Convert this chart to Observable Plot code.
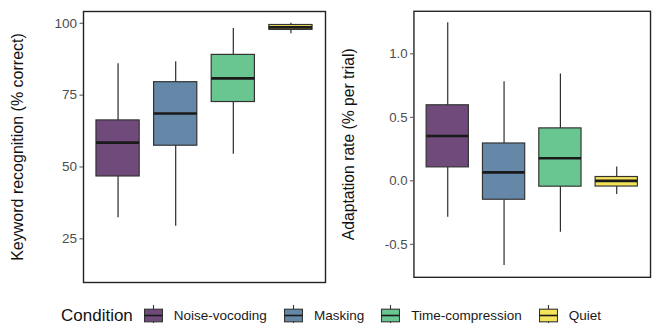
<!DOCTYPE html>
<html><head><meta charset="utf-8">
<script src="https://cdn.jsdelivr.net/npm/d3@7"></script>
<script src="https://cdn.jsdelivr.net/npm/@observablehq/plot@0.6"></script>
<style>
html,body{margin:0;padding:0;background:#fff;overflow:hidden;}
#wrap{position:relative;width:652px;height:323px;overflow:hidden;font-family:"Liberation Sans",Arial,sans-serif;}
#left{position:absolute;left:0;top:0;}
#right{position:absolute;left:330px;top:0;}
#legend{position:absolute;left:61px;top:303px;height:25px;display:flex;align-items:center;white-space:nowrap;}
#legend .ttl{font-size:17px;color:#111;margin-right:11px;}
#legend .key{width:19px;height:25px;margin-right:11px;display:block;}
#legend .lab{font-size:13.5px;color:#1a1a1a;margin-right:17px;}
</style></head>
<body><div id="wrap"><div id="left"></div><div id="right"></div><div id="legend"></div></div>
<script>
const conditions = ["Noise-vocoding", "Masking", "Time-compression", "Quiet"];
const colors = ["#704a7b", "#6588a8", "#6ac691", "#f5e45a"];
const legendTitle = "Condition";

// Keyword recognition (% correct)
const krLow  = [32.3, 29.4, 54.4, 96.4];
const krQ1   = [46.7, 57.4, 72.6, 97.7];
const krMed  = [58.5, 68.6, 80.8, 98.6];
const krQ3   = [66.2, 79.5, 89.0, 99.4];
const krHigh = [85.9, 86.6, 98.2, 100.0];
const krTicks = [25, 50, 75, 100];
const krTitle = "Keyword recognition (% correct)";

// Adaptation rate (% per trial)
const arLow  = [-0.286, -0.667, -0.404, -0.108];
const arQ1   = [0.106, -0.149, -0.046, -0.045];
const arMed  = [0.353, 0.067, 0.178, 0.0];
const arQ3   = [0.595, 0.294, 0.413, 0.03];
const arHigh = [1.244, 0.781, 0.842, 0.108];
const arTicks = [-0.5, 0, 0.5, 1.0];
const arTitle = "Adaptation rate (% per trial)";

function rows(low, q1, med, q3, high) {
  return conditions.map((c, i) => ({c, low: low[i], q1: q1[i], med: med[i], q3: q3[i], high: high[i]}));
}

function panel({data, yDomain, ticks, fmt, title, width, marginLeft, marginRight}) {
  return Plot.plot({
    width, height: 290,
    marginLeft, marginRight, marginTop: 11, marginBottom: 8,
    style: {fontFamily: "Liberation Sans, Arial, sans-serif", background: "white"},
    x: {domain: conditions, paddingInner: 0.25, paddingOuter: 0.225, round: false, axis: null},
    y: {domain: yDomain, axis: null},
    color: {domain: conditions, range: colors},
    marks: [
      Plot.ruleX(data, {x: "c", y1: "low", y2: "high", stroke: "#2b2b2b", strokeWidth: 1.2}),
      Plot.barY(data, {x: "c", y1: "q1", y2: "q3", fill: "c", stroke: "#333", strokeWidth: 1.2}),
      Plot.tickY(data, {x: "c", y: "med", stroke: "#1a1a1a", strokeWidth: 2.7}),
      Plot.frame({stroke: "#222", strokeWidth: 1.4}),
      Plot.axisY({ticks, tickFormat: fmt, tickSize: 3.5, tickPadding: 3, fontSize: 13.5, color: "#4d4d4d", label: null}),
      Plot.text([title], {text: d => d, frameAnchor: "left", textAnchor: "middle", lineAnchor: "middle", dx: -66, rotate: -90, fontSize: 16, fill: "#111"})
    ]
  });
}

document.getElementById("left").appendChild(panel({
  data: rows(krLow, krQ1, krMed, krQ3, krHigh),
  yDomain: [9.8, 104.1], ticks: krTicks, fmt: d => String(d), title: krTitle,
  width: 330, marginLeft: 83, marginRight: 5
}));
document.getElementById("right").appendChild(panel({
  data: rows(arLow, arQ1, arMed, arQ3, arHigh),
  yDomain: [-0.76, 1.335], ticks: arTicks, fmt: d => d.toFixed(1), title: arTitle,
  width: 328, marginLeft: 85, marginRight: 2
}));

// legend
const lg = document.getElementById("legend");
const t = document.createElement("span"); t.className = "ttl"; t.textContent = legendTitle; lg.appendChild(t);
const ns = "http://www.w3.org/2000/svg";
conditions.forEach((c, i) => {
  const svg = document.createElementNS(ns, "svg");
  svg.setAttribute("class", "key"); svg.setAttribute("width", 19); svg.setAttribute("height", 25);
  svg.innerHTML = `<line x1="9.5" x2="9.5" y1="2" y2="23" stroke="#333" stroke-width="1.1"/>
    <rect x="0.5" y="6.2" width="18" height="12.6" fill="${colors[i]}" stroke="#333" stroke-width="1.1"/>
    <line x1="0.5" x2="18.5" y1="12.5" y2="12.5" stroke="#1a1a1a" stroke-width="1.6"/>`;
  lg.appendChild(svg);
  const s = document.createElement("span"); s.className = "lab"; s.textContent = c; lg.appendChild(s);
});
</script></body></html>
